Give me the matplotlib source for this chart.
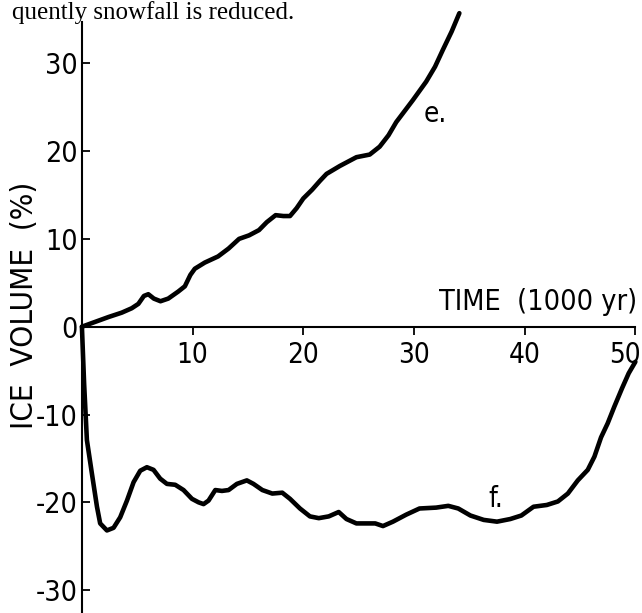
import matplotlib
matplotlib.use("Agg")
import matplotlib.pyplot as plt
from matplotlib.transforms import ScaledTranslation

# Curve e (ice volume growth)
e_time = [0, 1.2, 2.4, 3.6, 4.5, 5.1, 5.6, 6.0, 6.5, 7.1, 7.8, 8.7, 9.3, 9.8, 10.2,
          11.1, 12.3, 13.25, 14.2, 15.1, 16.0, 16.7, 17.5, 18.2, 18.8, 19.4, 20.0,
          20.8, 21.5, 22.1, 23.3, 24.8, 26.0, 26.9, 27.7, 28.4, 29.9, 31.1, 31.9,
          32.6, 33.4, 34.1]
e_vol = [0, 0.55, 1.1, 1.6, 2.1, 2.6, 3.5, 3.7, 3.2, 2.9, 3.2, 4.0, 4.6, 5.9, 6.6,
         7.3, 8.0, 8.9, 10.0, 10.4, 11.0, 11.9, 12.7, 12.6, 12.6, 13.5, 14.6,
         15.6, 16.6, 17.4, 18.3, 19.3, 19.6, 20.5, 21.8, 23.3, 25.8, 27.9, 29.6,
         31.5, 33.6, 35.7]

# Curve f (ice volume decay)
f_time = [0, 0.2, 0.45, 0.9, 1.36, 1.65, 2.26, 2.86, 3.46, 4.07, 4.67, 5.27, 5.87,
          6.47, 7.07, 7.68, 8.43, 9.18, 9.94, 10.54, 10.99, 11.44, 12.05, 12.65,
          13.25, 14.0, 14.9, 15.5, 16.3, 17.2, 18.1, 18.8, 19.7, 20.6, 21.4, 22.3,
          23.2, 23.9, 24.8, 26.0, 26.5, 27.2, 28.1, 29.3, 30.5, 32.0, 33.1, 34.0,
          35.1, 36.3, 37.5, 38.7, 39.7, 40.8, 42.0, 43.0, 43.9, 44.8, 45.7, 46.3,
          46.9, 47.5, 48.1, 48.8, 49.4, 50.0]
f_vol = [0, -6.5, -12.9, -16.7, -20.5, -22.4, -23.2, -22.9, -21.7, -19.8, -17.7,
         -16.4, -16.0, -16.3, -17.3, -17.9, -18.0, -18.6, -19.6, -20.0, -20.2,
         -19.8, -18.6, -18.7, -18.6, -17.9, -17.5, -17.9, -18.6, -19.0, -18.9,
         -19.6, -20.7, -21.6, -21.8, -21.6, -21.1, -21.9, -22.4, -22.4, -22.4,
         -22.7, -22.2, -21.4, -20.7, -20.6, -20.4, -20.7, -21.5, -22.0, -22.2,
         -21.9, -21.5, -20.5, -20.3, -19.9, -19.0, -17.5, -16.3, -14.8, -12.6,
         -11.0, -9.1, -7.0, -5.3, -4.0]

x_ticks = [10, 20, 30, 40, 50]
y_ticks = [-30, -20, -10, 0, 10, 20, 30]

fonts = ['DejaVu Sans', 'Liberation Sans']
stretch = 'condensed'

fig = plt.figure(figsize=(6.42, 6.13), dpi=100)
ax = fig.add_axes([0, 0, 1, 1])
ax.set_xlim(-7.4, 50.6)
ax.set_ylim(-32.6, 37.2)

kw = dict(color='black', lw=3.3, solid_capstyle='round', solid_joinstyle='round')
ax.plot(e_time, e_vol, **kw)
ax.plot(f_time, f_vol, **kw)

for s in ['top', 'right']:
    ax.spines[s].set_visible(False)
ax.spines['left'].set_position(('data', 0))
ax.spines['bottom'].set_position(('data', 0))
ax.spines['left'].set_bounds(-32.6, 34.7)
ax.spines['bottom'].set_bounds(0, 50)
ax.spines['left'].set_linewidth(1.5)
ax.spines['bottom'].set_linewidth(1.5)

ax.set_xticks(x_ticks)
ax.set_xticklabels([str(t) for t in x_ticks])
ax.set_yticks(y_ticks)
ax.set_yticklabels([str(t) for t in y_ticks])
ax.tick_params(axis='x', direction='out', length=6, width=1.3, pad=4, labelsize=20)
ax.tick_params(axis='y', direction='in', length=6, width=1.3, pad=3, labelsize=20.5)
for lab in ax.get_xticklabels() + ax.get_yticklabels():
    lab.set_family(fonts)
    lab.set_stretch(stretch)

# nudge the last x label so it stays inside the picture
last = ax.xaxis.get_major_ticks()[-1].label1
last.set_transform(last.get_transform() + ScaledTranslation(-10 / 100, 0, fig.dpi_scale_trans))

ax.text(-5.2, 2.4, 'ICE  VOLUME  (%)', rotation=90, ha='center', va='center',
        fontsize=22.5, family=fonts, stretch=stretch)
ax.text(41.2, 2.8, 'TIME  (1000 yr)', ha='center', va='center', fontsize=20.6,
        family=fonts, stretch=stretch)
ax.text(30.9, 24.2, 'e.', ha='left', va='center', fontsize=20, family=fonts, stretch=stretch)
ax.text(36.7, -19.6, 'f.', ha='left', va='center', fontsize=20, family=fonts, stretch=stretch)

fig.text(12 / 642, 1 - 19 / 613, 'quently snowfall is reduced.', ha='left', va='baseline',
         fontsize=18, family=['Liberation Serif', 'DejaVu Serif'])

fig.savefig('out.png', dpi=100, facecolor='white')
